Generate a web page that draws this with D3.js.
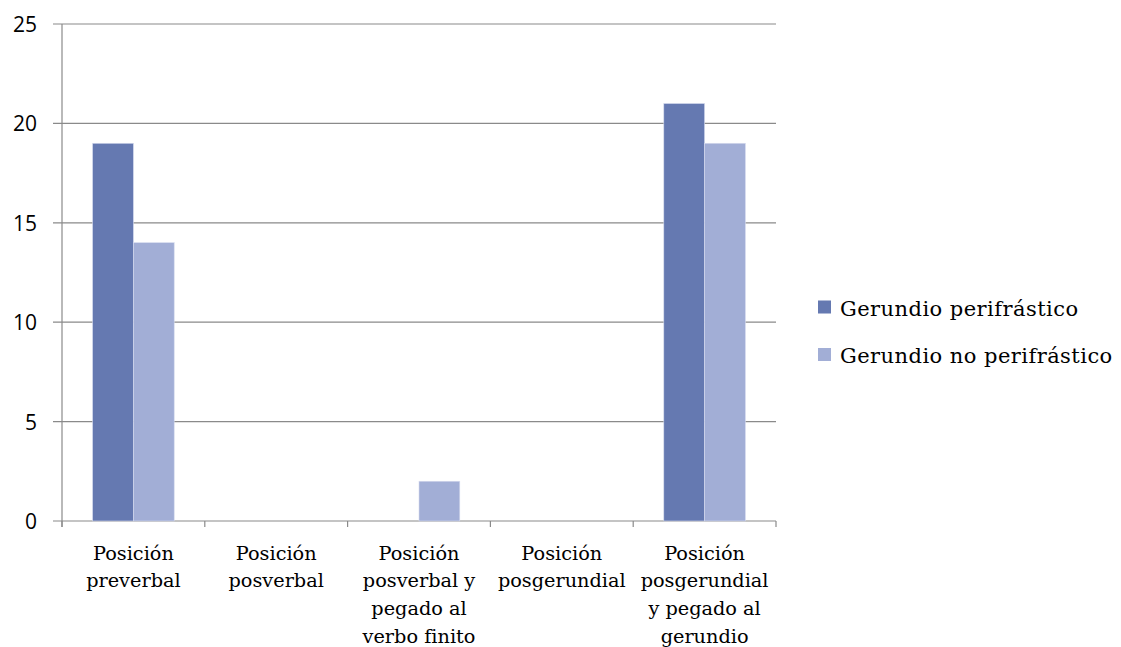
<!DOCTYPE html>
<html lang="es">
<head>
<meta charset="UTF-8">
<script src="https://d3js.org/d3.v7.min.js"></script>
<style>
  body { margin: 0; background: #fff; }
  .ytick text { font-family: "Open Sans", "Liberation Sans", sans-serif; font-size: 21px; fill: #000; }
  .xlab { font-family: "DejaVu Serif", serif; font-size: 19.3px; fill: #000; }
  .legend text { font-family: "DejaVu Serif", serif; font-size: 21px; letter-spacing: 0.45px; fill: #000; }
</style>
</head>
<body>
<div id="chart"></div>
<script>
const categories = [
  ["Posición", "preverbal"],
  ["Posición", "posverbal"],
  ["Posición", "posverbal y", "pegado al", "verbo finito"],
  ["Posición", "posgerundial"],
  ["Posición", "posgerundial", "y pegado al", "gerundio"]
];
const seriesNames = ["Gerundio perifrástico", "Gerundio no perifrástico"];
const perifrastico = [19, 0, 0, 0, 21];
const noPerifrastico = [14, 0, 2, 0, 19];
const yTicks = [0, 5, 10, 15, 20, 25];
const colors = ["#6579b1", "#a2aed6"];

const W = 1121, H = 647;
const plotLeft = 62, plotRight = 776, plotTop = 24, plotBottom = 521;

const svg = d3.select("#chart").append("svg")
  .attr("width", W).attr("height", H);

const x = d3.scaleBand()
  .domain(d3.range(categories.length))
  .range([plotLeft, plotRight])
  .paddingInner(0).paddingOuter(0);

// Excel-style 150% gap width: bar = band / 3.5
const bw = x.bandwidth() / 3.5;
const x1 = d3.scaleBand()
  .domain([0, 1])
  .range([bw * 0.75, bw * 2.75]);

const y = d3.scaleLinear().domain([0, 25]).range([plotBottom, plotTop]);

// gridlines + y ticks
const yg = svg.append("g");
yTicks.forEach(t => {
  const g = yg.append("g").attr("class", "ytick");
  g.append("line")
    .attr("x1", plotLeft - 9).attr("x2", plotRight)
    .attr("y1", y(t)).attr("y2", y(t))
    .attr("stroke", "#8a8a8a").attr("stroke-width", 1.2);
  g.append("text")
    .attr("x", 37).attr("y", y(t))
    .attr("text-anchor", "end")
    .attr("dominant-baseline", "central")
    .text(t);
});

// y axis line
svg.append("line")
  .attr("x1", plotLeft).attr("x2", plotLeft)
  .attr("y1", plotTop).attr("y2", plotBottom + 6)
  .attr("stroke", "#8a8a8a").attr("stroke-width", 1.2);

// bars
const data = categories.map((c, i) => [perifrastico[i], noPerifrastico[i]]);
const groups = svg.append("g").selectAll("g")
  .data(data).enter().append("g")
  .attr("transform", (d, i) => `translate(${x(i)},0)`);

groups.selectAll("rect")
  .data(d => d.map((v, j) => ({ v, j })).filter(d => d.v > 0))
  .enter().append("rect")
  .attr("x", d => x1(d.j))
  .attr("y", d => y(d.v))
  .attr("width", x1.bandwidth())
  .attr("height", d => y(0) - y(d.v))
  .attr("fill", d => colors[d.j])
  .attr("stroke", "#d6dbee")
  .attr("stroke-width", 0.6);

// category ticks
d3.range(categories.length + 1).forEach(i => {
  const xx = plotLeft + i * x.bandwidth();
  svg.append("line")
    .attr("x1", xx).attr("x2", xx)
    .attr("y1", plotBottom).attr("y2", plotBottom + 6)
    .attr("stroke", "#8a8a8a").attr("stroke-width", 1.2);
});

// category labels
categories.forEach((lines, i) => {
  const t = svg.append("text").attr("class", "xlab")
    .attr("text-anchor", "middle");
  lines.forEach((ln, k) => {
    t.append("tspan")
      .attr("x", x(i) + x.bandwidth() / 2)
      .attr("y", 559.5 + k * 27.7)
      .text(ln);
  });
});

// legend
const lg = svg.append("g").attr("class", "legend");
seriesNames.forEach((s, i) => {
  const cy = 307 + i * 47.5;
  lg.append("rect")
    .attr("x", 818).attr("y", cy - 6.5)
    .attr("width", 13).attr("height", 13)
    .attr("fill", colors[i]);
  lg.append("text")
    .attr("x", 840).attr("y", cy + 1.5)
    .attr("dominant-baseline", "central")
    .text(s);
});
</script>
</body>
</html>
